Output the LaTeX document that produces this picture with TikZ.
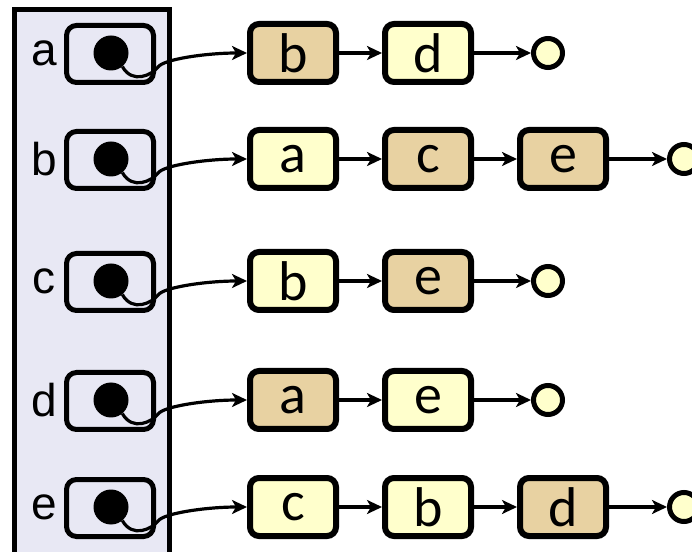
\documentclass[tikz,border=0pt]{standalone}
\usepackage{fontspec}
\setmainfont{Carlito}
\newfontfamily\lblfont{Liberation Sans}
\usetikzlibrary{arrows.meta}
\definecolor{lav}{HTML}{E8E8F4}
\definecolor{yel}{HTML}{FFFFCC}
\definecolor{tan}{HTML}{E8D2A2}
\tikzset{
  x=1pt,y=1pt,
  listnode/.style={draw, line width=6pt, rounded corners=9pt, minimum width=86pt, minimum height=58pt, inner sep=0pt, font=\fontsize{56}{56}\selectfont},
  yelnode/.style={listnode, fill=yel},
  tannode/.style={listnode, fill=tan},
  slotbox/.style={draw, line width=5pt, rounded corners=10pt, minimum width=87pt, minimum height=57pt, inner sep=0pt},
  dotnode/.style={circle, fill=black, minimum size=35pt, inner sep=0pt},
  endnode/.style={circle, draw, line width=5pt, fill=yel, minimum size=29pt, inner sep=0pt},
  lbl/.style={inner sep=0pt, font=\lblfont\fontsize{46}{46}\selectfont},
  link/.style={line width=3.2pt, -{Stealth[length=15pt,width=14pt,inset=4pt]}},
}
\begin{document}
\begin{tikzpicture}
\useasboundingbox (0,0) rectangle (692,551);
\clip (0,0) rectangle (692,551);
\draw[line width=5pt, fill=lav] (14.5,-10) -- (14.5,541.5) -- (169.5,541.5) -- (169.5,-10);
% rows: a 498, b 392, c 270, d 151, e 44
\foreach \r/\Y in {a/498, b/392, c/270, d/151, e/44}{
  \node[lbl] (L\r) at (44,\Y) {\r};
  \node[slotbox] (S\r) at (110,\Y-1) {};
  \node[dotnode] (D\r) at (111,\Y) {};
  \coordinate (M\r) at (158,\Y-14);
}
% row a
\node[tannode] (a1) at (293,498) {b};
\node[yelnode] (a2) at (428,498) {d};
\node[endnode] (a3) at (548,498) {};
% row b
\node[yelnode] (b1) at (293,392) {a};
\node[tannode] (b2) at (428,392) {c};
\node[tannode] (b3) at (563,392) {e};
\node[endnode] (b4) at (684,392) {};
% row c
\node[yelnode] (c1) at (293,270) {b};
\node[tannode] (c2) at (428,270) {e};
\node[endnode] (c3) at (548,270) {};
% row d
\node[tannode] (d1) at (293,151) {a};
\node[yelnode] (d2) at (428,151) {e};
\node[endnode] (d3) at (548,151) {};
% row e
\node[yelnode] (e1) at (293,44) {c};
\node[yelnode] (e2) at (428,44) {b};
\node[tannode] (e3) at (563,44) {d};
\node[endnode] (e4) at (684,44) {};
% pointer curves
\foreach \r in {a,b,c,d,e}{
  \draw[link] (D\r.-50) .. controls +(10,-18) and +(-6,-8) .. (M\r)
     .. controls +(6,8) and +(-40,0) .. (\r1.west);
}
% list arrows
\draw[link] (a1) -- (a2); \draw[link] (a2) -- (a3);
\draw[link] (b1) -- (b2); \draw[link] (b2) -- (b3); \draw[link] (b3) -- (b4);
\draw[link] (c1) -- (c2); \draw[link] (c2) -- (c3);
\draw[link] (d1) -- (d2); \draw[link] (d2) -- (d3);
\draw[link] (e1) -- (e2); \draw[link] (e2) -- (e3); \draw[link] (e3) -- (e4);
\end{tikzpicture}
\end{document}
